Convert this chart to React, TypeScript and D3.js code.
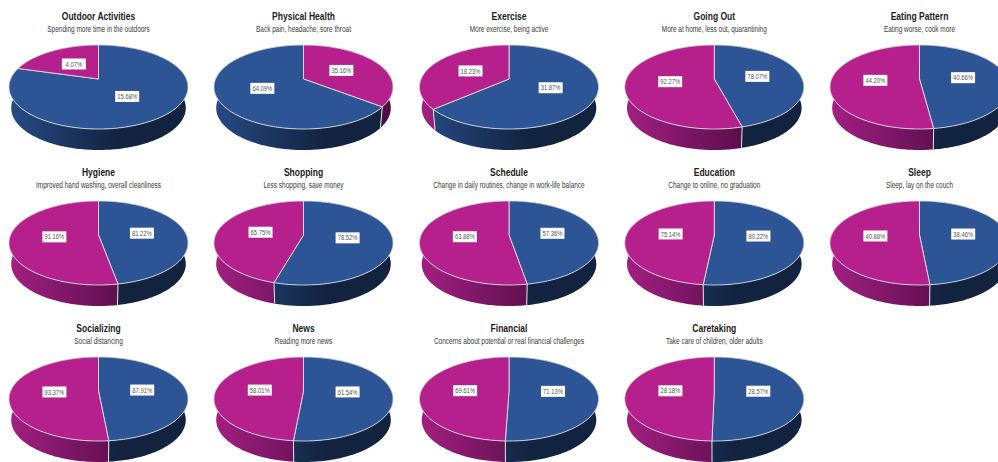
import React from "react";
import * as d3 from "d3";

// Survey themes, in reading order across the small multiples.
const titles = [
  "Outdoor Activities", "Physical Health", "Exercise", "Going Out", "Eating Pattern",
  "Hygiene", "Shopping", "Schedule", "Education", "Sleep",
  "Socializing", "News", "Financial", "Caretaking",
];
const subtitles = [
  "Spending more time in the outdoors", "Back pain, headache, sore throat", "More exercise, being active",
  "More at home, less out, quarantining", "Eating worse, cook more",
  "Improved hand washing, overall cleanliness", "Less shopping, save money",
  "Change in daily routines, change in work-life balance", "Change to online, no graduation", "Sleep, lay on the couch",
  "Social distancing", "Reading more news", "Concerns about potential or real financial challenges",
  "Take care of children, older adults",
];
const blueValues = [15.68, 64.09, 31.87, 78.07, 40.66, 81.22, 78.52, 57.36, 80.22, 38.46, 87.91, 61.54, 71.13, 28.57];
const pinkValues = [4.07, 35.16, 18.23, 92.27, 44.2, 91.16, 65.75, 63.88, 75.14, 40.88, 93.37, 58.01, 69.61, 28.18];
// Only this theme starts its first wedge with the pink share.
const pinkFirstThemes = ["Physical Health"];

const columnCentres = [98.5, 303.5, 509, 714.3, 919.5];
const rowHubs = [79, 235, 391];
const rowTitleY = [16, 172, 328];

const PINK = "#b5208c";
const BLUE = "#2d5495";
const FONT = "'Liberation Sans', Arial, sans-serif";
const width = 998;
const height = 462;

// Tilted-disc projection: a unit circle seen in perspective lands on an ellipse
// whose hub sits above the ellipse centre.
const tilt = 0.19;
const spanX = 87.9;
const spanY = 40.5;
const depth = 21;

function project(angle: number, r: number, cx: number, hub: number, shrink = 1, drop = 0): [number, number] {
  const u = Math.sin(angle) * r;
  const v = -Math.cos(angle) * r;
  const w = 1 - tilt * v;
  return [cx + (spanX * shrink * u) / w, hub + drop + (spanY * v) / w];
}

function arcPoints(a0: number, a1: number, cx: number, hub: number, shrink = 1, drop = 0) {
  const n = Math.max(2, Math.ceil(Math.abs(a1 - a0) / 0.02));
  return d3.range(n + 1).map((i) => project(a0 + ((a1 - a0) * i) / n, 1, cx, hub, shrink, drop));
}

const linePath = d3.line<[number, number]>();

// The installed sans is wider than the poster's condensed face, so text is squeezed horizontally.
function NarrowText({ x, y, squeeze, children, ...rest }: any) {
  return (
    <text transform={`translate(${x},${y}) scale(${squeeze},1)`} textAnchor="middle" fontFamily={FONT} {...rest}>
      {children}
    </text>
  );
}

function Pie({ index, col, row }: { index: number; col: number; row: number }) {
  const cx = columnCentres[col];
  const hub = rowHubs[row];
  const pinkFirst = pinkFirstThemes.includes(titles[index]);
  const wedges = [
    { key: "blue", value: blueValues[index], color: BLUE, gradient: "blueWall" },
    { key: "pink", value: pinkValues[index], color: PINK, gradient: "pinkWall" },
  ];
  const pie = d3.pie<(typeof wedges)[number]>().value((d) => d.value).sort(null);
  const arcs = pie(pinkFirst ? [wedges[1], wedges[0]] : wedges);
  const gradientX = d3.scaleLinear().domain([0, 1]).range([cx - 90, cx + 90]);

  return (
    <g>
      <defs>
        <linearGradient id={`pinkWall${index}`} gradientUnits="userSpaceOnUse" x1={gradientX(0)} x2={gradientX(0.75)} y1={0} y2={0}>
          <stop offset="0" stopColor="#a31f82" />
          <stop offset="1" stopColor="#4f0c44" />
        </linearGradient>
        <linearGradient id={`blueWall${index}`} gradientUnits="userSpaceOnUse" x1={gradientX(0)} x2={gradientX(0.62)} y1={0} y2={0}>
          <stop offset="0" stopColor="#274a85" />
          <stop offset="1" stopColor="#12233f" />
        </linearGradient>
      </defs>
      {arcs.map((a) => {
        const top = arcPoints(a.startAngle, a.endAngle, cx, hub);
        const bottom = arcPoints(a.endAngle, a.startAngle, cx, hub, 0.975, depth);
        return (
          <path
            key={`wall-${a.data.key}`}
            d={linePath([...top, ...bottom]) + "Z"}
            fill={`url(#${a.data.gradient}${index})`}
          />
        );
      })}
      {arcs.map((a) => {
        const angle = a.startAngle;
        const [x, y] = project(angle, 1, cx, hub);
        const [x2, y2] = project(angle, 1, cx, hub, 0.975, depth);
        const facingViewer = -Math.cos(angle) > -0.15;
        return facingViewer ? (
          <line key={`seam-${a.data.key}`} x1={x} y1={y} x2={x2} y2={y2} stroke="#dfe3ea" strokeWidth={1} />
        ) : null;
      })}
      {arcs.map((a) => (
        <path
          key={`top-${a.data.key}`}
          d={linePath([[cx, hub], ...arcPoints(a.startAngle, a.endAngle, cx, hub)]) + "Z"}
          fill={a.data.color}
          stroke="#dcdfe6"
          strokeWidth={0.9}
          strokeLinejoin="round"
        />
      ))}
      {arcs.map((a) => {
        const [lx, ly] = project((a.startAngle + a.endAngle) / 2, 0.5, cx, hub);
        return (
          <g key={`label-${a.data.key}`}>
            <rect x={lx - 12} y={ly - 5.5} width={24} height={11} fill="#fff" />
            <NarrowText x={lx} y={ly + 2.6} squeeze={0.78} fontSize={7.5} fill="#555">
              {a.data.value.toFixed(2)}%
            </NarrowText>
          </g>
        );
      })}
      <NarrowText x={cx} y={rowTitleY[row] + 4} squeeze={0.74} fontWeight={700} fontSize={11.5} fill="#1c1c1c">
        {titles[index]}
      </NarrowText>
      <NarrowText x={cx} y={rowTitleY[row] + 15.5} squeeze={0.79} fontSize={8.2} fill="#3a3a3a">
        {subtitles[index]}
      </NarrowText>
    </g>
  );
}

export default function App() {
  return (
    <svg
      width={width}
      height={height}
      viewBox={`0 0 ${width} ${height}`}
      style={{ position: "absolute", left: 0, top: 0, background: "#fff", display: "block" }}
    >
      {titles.map((title, i) => (
        <Pie key={title} index={i} col={i % 5} row={Math.floor(i / 5)} />
      ))}
    </svg>
  );
}
